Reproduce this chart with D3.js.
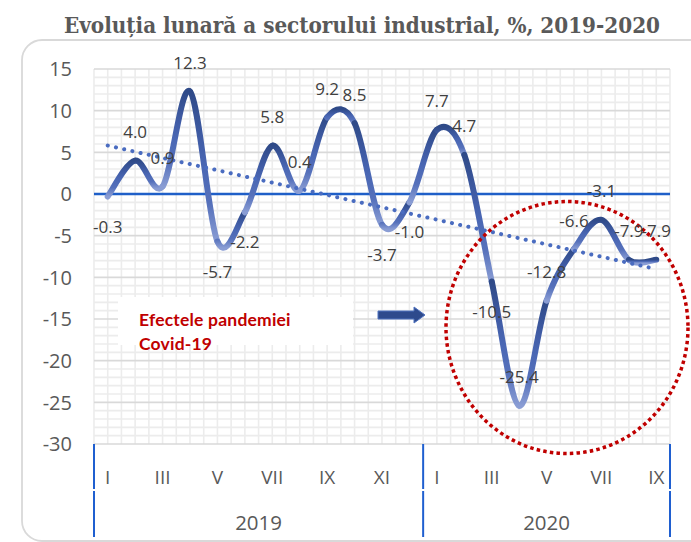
<!DOCTYPE html>
<html><head><meta charset="utf-8">
<script src="https://cdn.jsdelivr.net/npm/d3@7"></script>
<style>body{margin:0;background:#fff;} svg{display:block;}</style>
</head><body><svg id="c" width="691" height="542"></svg>
<script>
// ---------- data ----------
const title = "Evoluția lunară a sectorului industrial, %, 2019-2020";
const years = ["2019", "2020"];
const monthsPerYear = [12, 9];
const monthNames = ["I","II","III","IV","V","VI","VII","VIII","IX","X","XI","XII"];
const values = [-0.3, 4.0, 0.9, 12.3, -5.7, -2.2, 5.8, 0.4, 9.2, 8.5, -3.7, -1.0,
                7.7, 4.7, -10.5, -25.4, -12.8, -6.6, -3.1, -7.9, -7.9];
const labelSide = ["below","above","above","above","below","below","above","above","above","above","below","below",
                   "above","above","below","above","above","above","above","above","above"];
const yTicks = [15, 10, 5, 0, -5, -10, -15, -20, -25, -30];
const annotationLines = ["Efectele pandemiei", "Covid-19"];

// ---------- build ----------
const categories = [];
years.forEach((yr, i) => {
  for (let m = 0; m < monthsPerYear[i]; m++)
    categories.push({year: yr, month: monthNames[m], idx: m, key: yr + "-" + monthNames[m]});
});

const svg = d3.select("#c");
const plot = {left: 94, right: 670, top: 69, bottom: 444};
const x = d3.scaleBand().domain(categories.map(d => d.key)).range([plot.left, plot.right]).padding(0);
const y = d3.scaleLinear().domain([d3.min(yTicks), d3.max(yTicks)]).range([plot.bottom, plot.top]);
const cx = i => x(categories[i].key) + x.bandwidth() / 2;
const bw = x.bandwidth();

const defs = svg.append("defs");
const grad = defs.append("linearGradient").attr("id", "segGrad")
  .attr("x1", 0).attr("y1", 0).attr("x2", 0).attr("y2", 1);
[[0, "#2f4a88"], [0.3, "#3f5ba4"], [0.5, "#4a67b4"], [0.75, "#5671bb"], [1, "#8a9dd4"]]
  .forEach(([o, c]) => grad.append("stop").attr("offset", o).attr("stop-color", c));

// outer rounded border
svg.append("rect").attr("x", 22).attr("y", 40).attr("width", 700).attr("height", 501)
  .attr("rx", 20).attr("fill", "#fff").attr("stroke", "#d9d9d9").attr("stroke-width", 1.8);

// title
svg.append("text").attr("x", 362).attr("y", 33).attr("text-anchor", "middle")
  .attr("font-family", "'DejaVu Serif Condensed', 'DejaVu Serif', serif").attr("font-weight", "bold")
  .attr("font-size", 22).attr("fill", "#595959")
  .attr("textLength", 596).attr("lengthAdjust", "spacingAndGlyphs")
  .text(title);

// gridlines
const g = svg.append("g");
const minorY = d3.range(d3.min(yTicks), d3.max(yTicks) + 1, 1).filter(v => v % 5 !== 0);
g.selectAll(".minY").data(minorY).join("line")
  .attr("x1", plot.left).attr("x2", plot.right).attr("y1", d => y(d)).attr("y2", d => y(d))
  .attr("stroke", "#ececec").attr("stroke-width", 1.6);
const vLines = d3.range(0, categories.length * 2 + 1).map(k => plot.left + k * bw / 2);
g.selectAll(".minX").data(vLines).join("line")
  .attr("x1", d => d).attr("x2", d => d).attr("y1", plot.top).attr("y2", plot.bottom)
  .attr("stroke", "#ececec").attr("stroke-width", 1.6);
g.selectAll(".majY").data(yTicks).join("line")
  .attr("x1", plot.left).attr("x2", plot.right).attr("y1", d => y(d)).attr("y2", d => y(d))
  .attr("stroke", "#d9d9d9").attr("stroke-width", 1.6);

// y axis labels
svg.append("g").selectAll("text").data(yTicks).join("text")
  .attr("x", 72).attr("y", d => y(d)).attr("dy", "0.36em").attr("text-anchor", "end")
  .attr("font-family", "'Open Sans', sans-serif").attr("font-size", 20).attr("fill", "#595959")
  .text(d => d);

// zero line
svg.append("line").attr("x1", plot.left).attr("x2", plot.right).attr("y1", y(0)).attr("y2", y(0))
  .attr("stroke", "#1f5fc8").attr("stroke-width", 2.5);

// x axis: month labels + year groups
const monthG = svg.append("g");
monthG.selectAll("text").data(categories.map((c, i) => ({c, i})).filter(d => d.c.idx % 2 === 0)).join("text")
  .attr("x", d => cx(d.i)).attr("y", 477).attr("dy", "0.36em").attr("text-anchor", "middle")
  .attr("font-family", "'Open Sans', sans-serif").attr("font-size", 19).attr("fill", "#595959")
  .text(d => d.c.month);
let start = 0;
const yearBounds = [];
years.forEach((yr, i) => {
  const x0 = x(categories[start].key);
  const x1 = x(categories[start + monthsPerYear[i] - 1].key) + bw;
  yearBounds.push({yr, x0, x1});
  start += monthsPerYear[i];
});
svg.append("g").selectAll("text").data(yearBounds).join("text")
  .attr("x", d => (d.x0 + d.x1) / 2).attr("y", 523).attr("dy", "0.36em").attr("text-anchor", "middle")
  .attr("font-family", "'Open Sans', sans-serif").attr("font-size", 20.5).attr("fill", "#595959")
  .text(d => d.yr);
const seps = [yearBounds[0].x0, ...yearBounds.map(d => d.x1)];
const sepG = svg.append("g");
seps.forEach(sx => {
  sepG.append("line").attr("x1", sx).attr("x2", sx).attr("y1", plot.bottom).attr("y2", 489)
    .attr("stroke", "#1f5fd0").attr("stroke-width", 2);
  sepG.append("line").attr("x1", sx).attr("x2", sx).attr("y1", 491).attr("y2", 537)
    .attr("stroke", "#1f5fd0").attr("stroke-width", 2);
});

// series line: smooth (cardinal, tension 0) split per segment
const pts = values.map((v, i) => [cx(i), y(v)]);
const lineG = svg.append("g");
for (let i = 0; i < pts.length - 1; i++) {
  const p0 = pts[Math.max(0, i - 1)], p1 = pts[i], p2 = pts[i + 1], p3 = pts[Math.min(pts.length - 1, i + 2)];
  const c1 = [p1[0] + (p2[0] - p0[0]) / 6, p1[1] + (p2[1] - p0[1]) / 6];
  const c2 = [p2[0] - (p3[0] - p1[0]) / 6, p2[1] - (p3[1] - p1[1]) / 6];
  const path = d3.path();
  path.moveTo(p1[0], p1[1]);
  path.bezierCurveTo(c1[0], c1[1], c2[0], c2[1], p2[0], p2[1]);
  lineG.append("path").attr("d", path.toString()).attr("fill", "none")
    .attr("stroke", "url(#segGrad)").attr("stroke-width", 6)
    .attr("stroke-linecap", "round").attr("stroke-linejoin", "round");
}

// linear trendline (least squares on the series)
const n = values.length;
const xs = d3.range(1, n + 1);
const mx = d3.mean(xs), my = d3.mean(values);
const slope = d3.sum(xs.map((xv, i) => (xv - mx) * (values[i] - my))) / d3.sum(xs.map(xv => (xv - mx) ** 2));
const icpt = my - slope * mx;
svg.append("line")
  .attr("x1", cx(0)).attr("y1", y(icpt + slope * 1))
  .attr("x2", cx(n - 1)).attr("y2", y(icpt + slope * n))
  .attr("stroke", "#4a6cc0").attr("stroke-width", 4)
  .attr("stroke-linecap", "round").attr("stroke-dasharray", "0.1 8.3");

// red dotted ellipse
svg.append("ellipse").attr("cx", 567).attr("cy", 327.5).attr("rx", 121).attr("ry", 126)
  .attr("fill", "none").attr("stroke", "#c00000").attr("stroke-width", 3.5)
  .attr("stroke-dasharray", "3.5 3.2");

// data labels
svg.append("g").selectAll("text").data(values).join("text")
  .attr("x", (d, i) => cx(i))
  .attr("y", (d, i) => y(d) + (labelSide[i] === "above" ? -22.5 : 36))
  .attr("text-anchor", "middle")
  .attr("font-family", "'Open Sans', sans-serif").attr("font-size", 17).attr("fill", "#404040")
  .text(d => d.toFixed(1));

// annotation box
svg.append("rect").attr("x", 118).attr("y", 297).attr("width", 235).attr("height", 48).attr("fill", "#fff");
svg.append("g").selectAll("text").data(annotationLines).join("text")
  .attr("x", 139).attr("y", (d, i) => 326 + i * 23.5)
  .attr("font-family", "Lato, sans-serif").attr("font-weight", "bold").attr("font-size", 17.5)
  .attr("letter-spacing", 0.2)
  .attr("fill", "#c00000").text(d => d);

// arrow
const ay = 315;
svg.append("path")
  .attr("d", `M378,${ay - 4} L414,${ay - 4} L414,${ay - 8} L425,${ay} L414,${ay + 8} L414,${ay + 4} L378,${ay + 4} Z`)
  .attr("fill", "#2e4a8c").attr("stroke", "#4f72bf").attr("stroke-width", 1);
</script></body></html>
